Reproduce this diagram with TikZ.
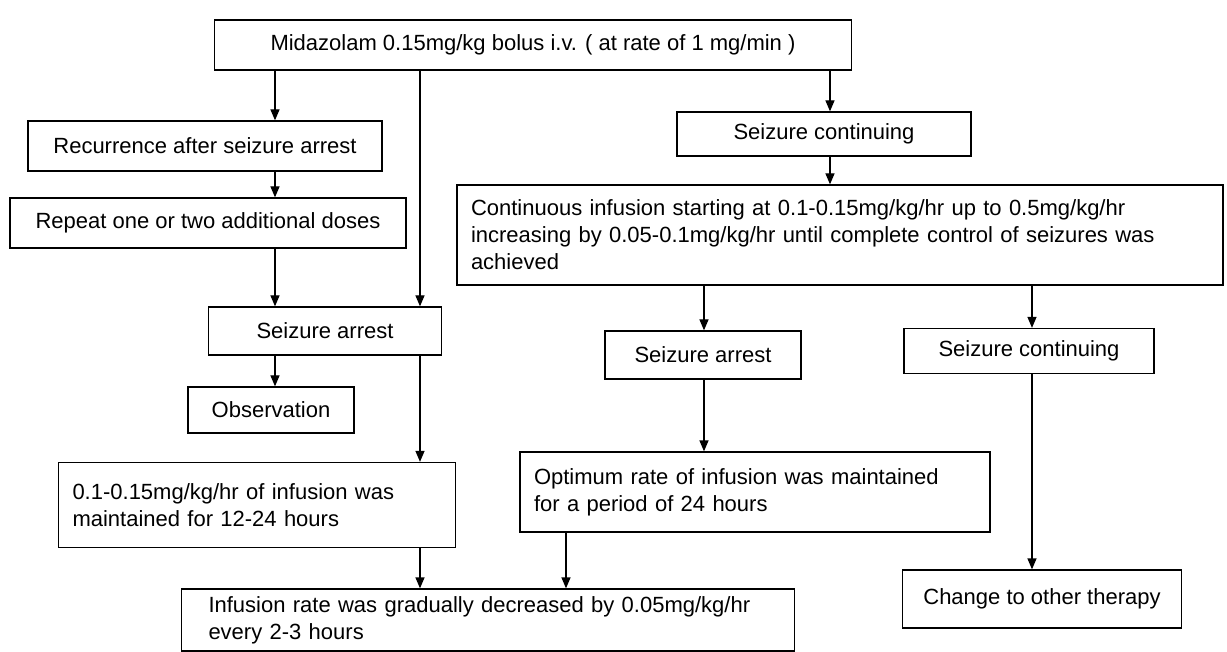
\documentclass[tikz,border=0pt]{standalone}
\usepackage{fontspec}
\setmainfont{Liberation Sans}
\usetikzlibrary{positioning,arrows.meta}

\begin{document}
\begin{tikzpicture}[x=1pt,y=-1pt,
	every node/.style={font=\fontsize{22}{27}\selectfont, inner sep=0pt},
	box/.style={draw, line width=1.3pt},
	tbox/.style={box, align=left, inner xsep=14pt},
	arr/.style={line width=1.3pt, -{Triangle[length=11pt,width=9pt]}}]
			\useasboundingbox (0,0) rectangle (1227,652);
			\node [box, minimum width=637pt, minimum height=50pt] (bolus) at (533,45) {Midazolam 0.15mg/kg bolus i.v. ( at rate of 1 mg/min )};
			\node [box, minimum width=354pt, minimum height=50pt] (recur) at (205,146) {Recurrence after seizure arrest};
			\node [box, minimum width=396pt, minimum height=50pt] (repeat) at (208,223) {Repeat one or two additional doses};
			\node [box, minimum width=233pt, minimum height=48pt] (arrestL) at (325,331) {Seizure arrest};
			\node [box, minimum width=166pt, minimum height=46pt] (observ) at (271,410) {Observation};
			\node [tbox, text width=369pt, minimum height=85pt] (maintL) at (257,505) {0.1-0.15mg/kg/hr of infusion was\\maintained for 12-24 hours};
			\node [tbox, inner xsep=27pt, text width=559pt, minimum height=62pt] (taper) at (488,620) {Infusion rate was gradually decreased by 0.05mg/kg/hr\\every 2-3 hours};
			\node [box, minimum width=294pt, minimum height=44pt] (contA) at (824,134) {Seizure continuing};
			\node [tbox, text width=738pt, minimum height=100pt] (infuse) at (840,235) {Continuous infusion starting at 0.1-0.15mg/kg/hr up to 0.5mg/kg/hr\\increasing by 0.05-0.1mg/kg/hr until complete control of seizures was\\achieved};
			\node [box, minimum width=196pt, minimum height=48pt] (arrestR) at (703,355) {Seizure arrest};
			\node [box, minimum width=250pt, minimum height=45pt] (contB) at (1029,351) {Seizure continuing};
			\node [tbox, text width=442pt, minimum height=80pt] (maintR) at (755,492) {Optimum rate of infusion was maintained\\for a period of 24 hours};
			\node [box, minimum width=279pt, minimum height=58pt] (other) at (1042,599) {Change to other therapy};
			\coordinate (xa) at (275,0);
			\coordinate (xb) at (420,0);
			\coordinate (xc) at (830,0);
			\coordinate (xd) at (704,0);
			\coordinate (xe) at (1032,0);
			\coordinate (xf) at (566,0);
			\draw [arr] (bolus.south -| xa) -- (recur.north -| xa);
			\draw [arr] (recur.south -| xa) -- (repeat.north -| xa);
			\draw [arr] (repeat.south -| xa) -- (arrestL.north -| xa);
			\draw [arr] (arrestL.south -| xa) -- (observ.north -| xa);
			\draw [arr] (bolus.south -| xb) -- (arrestL.north -| xb);
			\draw [arr] (arrestL.south -| xb) -- (maintL.north -| xb);
			\draw [arr] (maintL.south -| xb) -- (taper.north -| xb);
			\draw [arr] (maintR.south -| xf) -- (taper.north -| xf);
			\draw [arr] (bolus.south -| xc) -- (contA.north -| xc);
			\draw [arr] (contA.south -| xc) -- (infuse.north -| xc);
			\draw [arr] (infuse.south -| xd) -- (arrestR.north -| xd);
			\draw [arr] (arrestR.south -| xd) -- (maintR.north -| xd);
			\draw [arr] (infuse.south -| xe) -- (contB.north -| xe);
			\draw [arr] (contB.south -| xe) -- (other.north -| xe);
\end{tikzpicture}
\end{document}
